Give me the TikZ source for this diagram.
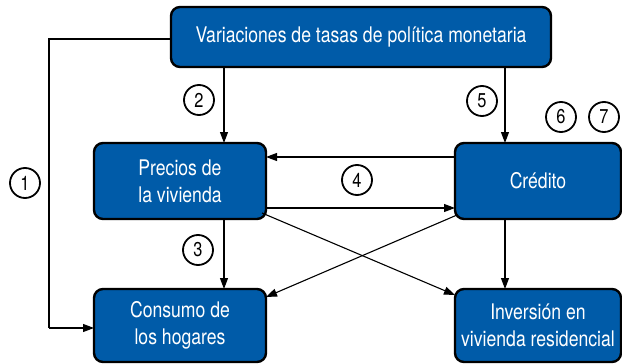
\documentclass[tikz,border=0pt]{standalone}
\usepackage{fontspec}
\setmainfont[FakeStretch=0.82]{TeX Gyre Heros}
\usetikzlibrary{arrows.meta}
\definecolor{boxblue}{RGB}{0,91,168}
\begin{document}
\begin{tikzpicture}[x=1pt,y=-1pt,
  box/.style={draw=black,line width=2.4pt,fill=boxblue,rounded corners=9pt,text=white,
    font=\fontsize{21.5}{27}\selectfont,align=center,inner sep=0pt,outer sep=0pt},
  num/.style={draw=black,line width=1.8pt,circle,minimum size=30pt,inner sep=0pt,
    font=\fontsize{20}{20}\selectfont},
  arr/.style={line width=1.1pt,-{Triangle[length=11pt,width=8pt]}},
  ln/.style={line width=1.1pt}]
\useasboundingbox (0,0) rectangle (622,364);
% boxes
\node[box,minimum width=380pt,minimum height=60pt] (top) at (361,37) {Variaciones de tasas de política monetaria};
\node[box,minimum width=172pt,minimum height=76pt] (prec) at (180,181) {Precios de\\la vivienda};
\node[box,minimum width=166pt,minimum height=76pt] (cred) at (538,181) {Crédito};
\node[box,minimum width=172pt,minimum height=73pt] (cons) at (180,325.5) {Consumo de\\los hogares};
\node[box,minimum width=166pt,minimum height=73pt] (inv) at (538,325.5) {Inversión en\\vivienda residencial};
% helper coordinates
\coordinate (xl) at (224,0);
\coordinate (xr) at (505,0);
\coordinate (yu) at (0,157);
\coordinate (yd) at (0,208);
\coordinate (yt) at (0,39);
\coordinate (yc) at (0,328);
\coordinate (c1) at (49,39);
\coordinate (c2) at (49,328);
% connectors
\draw[ln] (top.west |- yt) -- (c1) -- (c2);
\draw[arr] (c2) -- (cons.west |- yc);
\draw[arr] (top.south -| xl) -- (prec.north -| xl);
\draw[arr] (top.south -| xr) -- (cred.north -| xr);
\draw[arr] (prec.south -| xl) -- (cons.north -| xl);
\draw[arr] (cred.south -| xr) -- (inv.north -| xr);
\draw[arr] (cred.west |- yu) -- (prec.east |- yu);
\draw[arr] (prec.east |- yd) -- (cred.west |- yd);
\draw[arr] ([shift={(-4,-6)}]prec.south east) -- ([shift={(0,6)}]inv.north west);
\draw[arr] ([shift={(2,-4)}]cred.south west) -- ([shift={(0,8)}]cons.north east);
% numbers
\node[num] (n1) at (25,183) {1};
\node[num] (n2) at (199,100) {2};
\node[num] (n3) at (198,250) {3};
\node[num] (n4) at (357,180) {4};
\node[num] (n5) at (482,101) {5};
\node[num] (n6) at (561,117) {6};
\node[num] (n7) at (604,117) {7};
\end{tikzpicture}
\end{document}
